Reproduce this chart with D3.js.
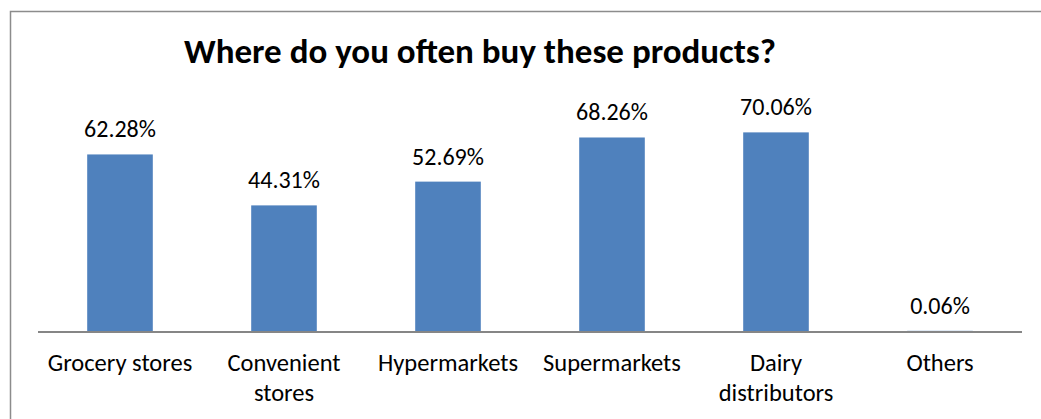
<!DOCTYPE html>
<html>
<head>
<meta charset="utf-8">
<script src="https://cdn.jsdelivr.net/npm/d3@7/dist/d3.min.js"></script>
<style>
  html, body { margin: 0; padding: 0; background: #fff; }
  svg { display: block; }
  text { font-family: Carlito, Lato, "Open Sans", sans-serif; fill: #000; }
</style>
</head>
<body>
<svg id="chart" width="1041" height="419"></svg>
<script>
// Survey answers: where respondents usually buy the products
const categories = ["Grocery stores", "Convenient stores", "Hypermarkets", "Supermarkets", "Dairy distributors", "Others"];
const categoryLines = [["Grocery stores"], ["Convenient", "stores"], ["Hypermarkets"], ["Supermarkets"], ["Dairy", "distributors"], ["Others"]];
const shares = [62.28, 44.31, 52.69, 68.26, 70.06, 0.06];
const valueLabels = ["62.28%", "44.31%", "52.69%", "68.26%", "70.06%", "0.06%"];

const svg = d3.select("#chart");

// outer frame
svg.append("rect")
  .attr("x", 10.5).attr("y", 11.5)
  .attr("width", 1100).attr("height", 500)
  .attr("fill", "#fff").attr("stroke", "#8c8c8c").attr("stroke-width", 1.5);

const plot = { left: 38, right: 1022, bottom: 331 };

const x = d3.scaleBand()
  .domain(categories)
  .range([plot.left, plot.right])
  .paddingInner(0.6).paddingOuter(0.3);

const y = d3.scaleLinear()
  .domain([0, 80])
  .range([plot.bottom, plot.bottom - 80 * 2.835]);

// title
svg.append("text")
  .attr("x", 480).attr("y", 63)
  .attr("text-anchor", "middle")
  .style("font-weight", "bold")
  .style("font-size", "35px")
  .text("Where do you often buy these products?");

// bars
svg.append("g").selectAll("rect")
  .data(categories)
  .join("rect")
  .attr("x", d => x(d))
  .attr("width", x.bandwidth())
  .attr("y", (d, i) => y(shares[i]))
  .attr("height", (d, i) => y(0) - y(shares[i]))
  .attr("fill", "#4f81bd");

// value labels
svg.append("g").selectAll("text")
  .data(categories)
  .join("text")
  .attr("x", d => x(d) + x.bandwidth() / 2)
  .attr("y", (d, i) => y(shares[i]) - 17)
  .attr("text-anchor", "middle")
  .style("font-size", "24px")
  .text((d, i) => valueLabels[i]);

// category axis
const axis = svg.append("g")
  .attr("transform", `translate(0,${plot.bottom + 1})`)
  .call(d3.axisBottom(x).tickSize(0).tickFormat(""));
axis.select(".domain").attr("stroke", "#868686").attr("stroke-width", 2)
  .attr("d", `M${plot.left},0H${plot.right}`);

axis.selectAll(".tick").each(function(d, i) {
  const t = d3.select(this).append("text")
    .attr("text-anchor", "middle")
    .style("font-size", "24.5px")
    .attr("fill", "#000");
  categoryLines[i].forEach((line, k) => {
    t.append("tspan").attr("x", 0).attr("y", 39 + k * 30).text(line);
  });
});
</script>
</body>
</html>
